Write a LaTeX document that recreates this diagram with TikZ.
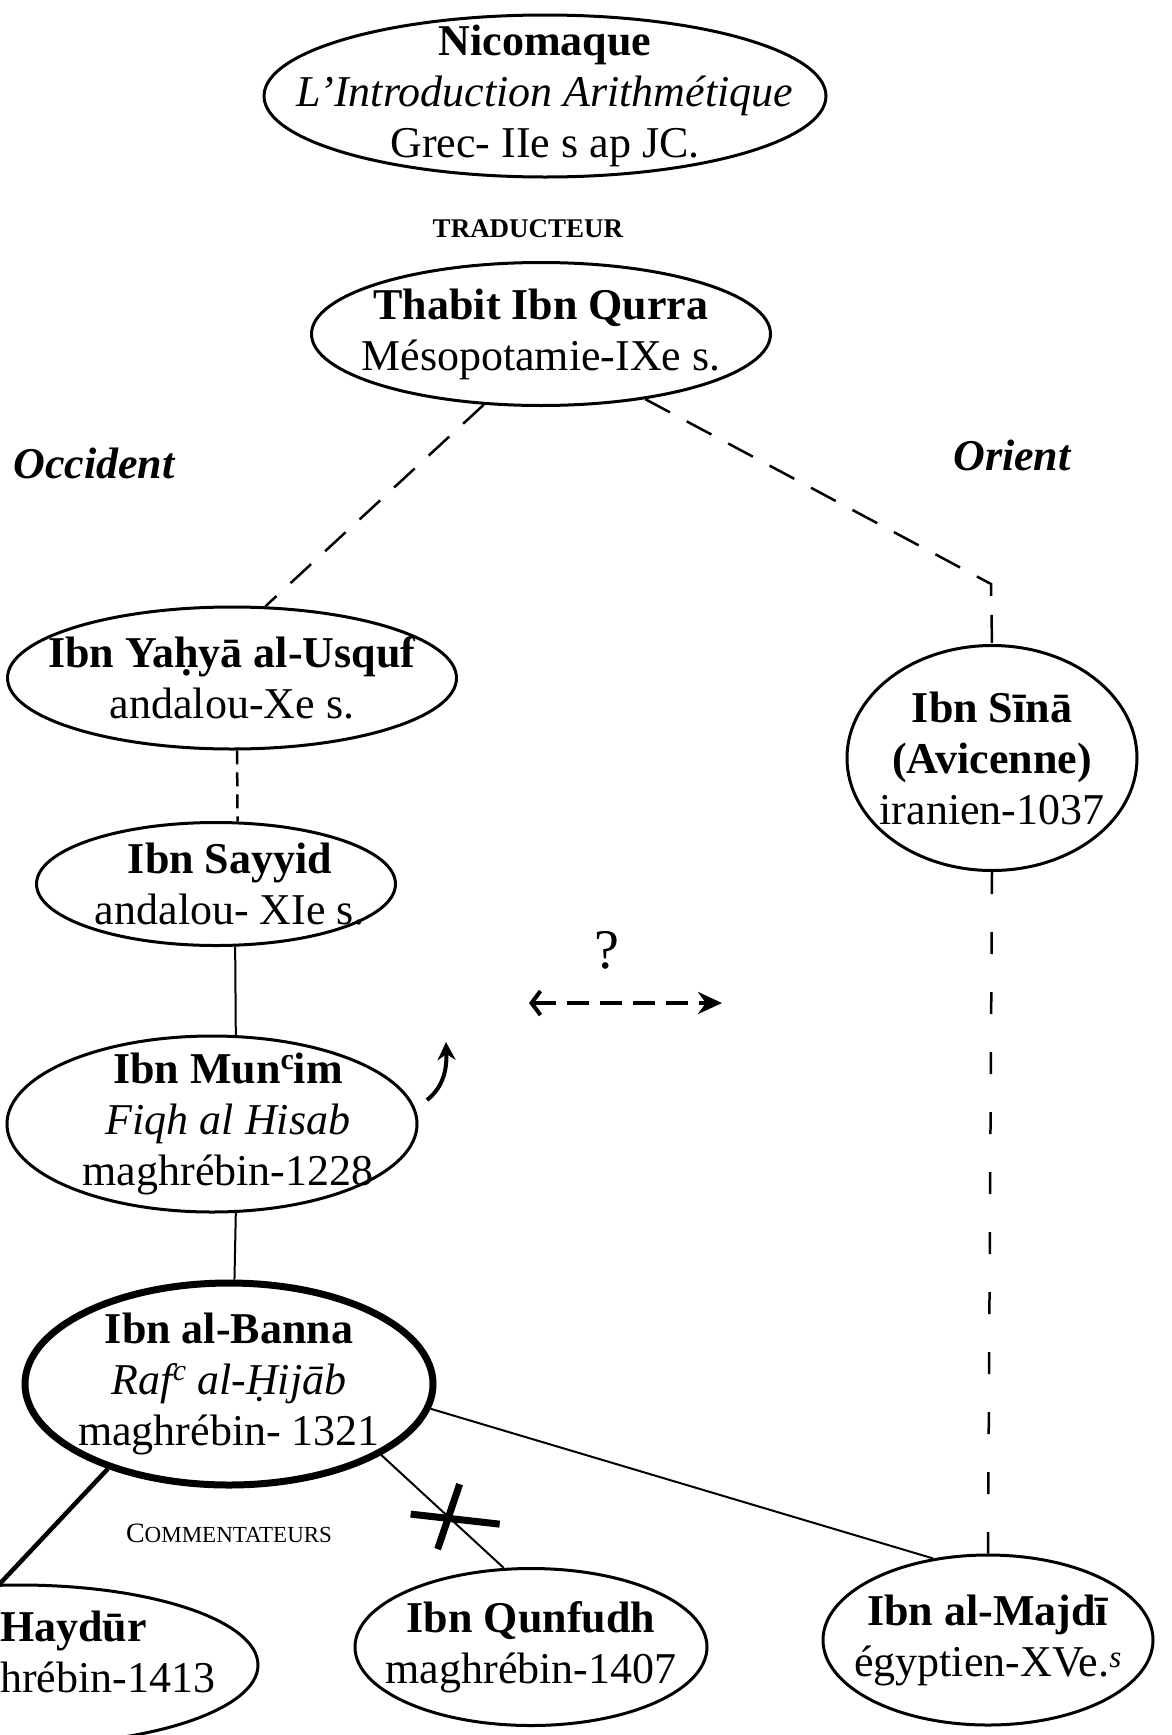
\documentclass[tikz,border=0pt]{standalone}
\usepackage{fontspec}
\setmainfont{Liberation Serif}
\usepackage{tikz}
\usetikzlibrary{shapes.geometric,arrows.meta}

\newcommand{\supc}{\raisebox{0.32em}{\fontsize{30}{30}\selectfont c}}

\begin{document}
\begin{tikzpicture}[x=1pt, y=-1pt, node distance=240pt,
  font=\fontsize{44}{51}\selectfont,
  blob/.style={ellipse, draw, line width=3pt, inner sep=0pt},
  txt/.style={inner sep=0pt},
  link/.style={line width=2pt},
  dashlink/.style={line width=2.5pt, dash pattern=on 28pt off 19pt},
  every label/.style={align=center}]

\useasboundingbox (0,0) rectangle (1171,1735);
\clip (0,0) rectangle (1171,1735);

\node (nico) [blob, minimum width=562pt, minimum height=162pt, label={center:\textbf{Nicomaque}\\\textit{L'Introduction Arithmétique}\\Grec- IIe s ap JC.}] at (545,96) {};
\node (trad) [txt] at (528,229) {\fontsize{27}{30}\selectfont\bfseries TRADUCTEUR};
\node (thabit) [blob, minimum width=459pt, minimum height=143pt, below of=nico, xshift=-4pt, yshift=2pt, label={center:\textbf{Thabit Ibn Qurra}\\Mésopotamie-IXe s.}] {};

\node (occ) [txt] at (94,463) {\bfseries\itshape Occident};
\node (ori) [txt] at (1012,455) {\bfseries\itshape Orient};

\node (yahya) [blob, minimum width=449pt, minimum height=142pt, below of=thabit, xshift=-309pt, yshift=-104pt, label={center:\textbf{Ibn Yaḥyā al-Usquf}\\andalou-Xe s.}] {};
\node (sayyid) [blob, minimum width=359pt, minimum height=123pt, below of=yahya, xshift=-16pt, yshift=34pt, label={[xshift=14pt]center:\textbf{Ibn Sayyid}\\andalou- XIe s.}] {};
\node (munim) [blob, minimum width=410pt, minimum height=176pt, below of=sayyid, xshift=-4pt, label={[xshift=16pt]center:\textbf{Ibn Mun\supc im}\\\textit{Fiqh al Hisab}\\maghrébin-1228}] {};
\node (banna) [blob, line width=7pt, minimum width=408pt, minimum height=202pt, below of=munim, xshift=17pt, yshift=-20pt, label={center:\textbf{Ibn al-Banna}\\\textit{Raf\supc\ al-Ḥijāb}\\maghrébin- 1321}] {};

\node (sina) [blob, minimum width=290pt, minimum height=225pt, label={center:\textbf{Ibn Sīnā}\\\textbf{(Avicenne)}\\iranien-1037}] at (992,758) {};
\node (majdi) [blob, minimum width=330pt, minimum height=170pt, label={center:\textbf{Ibn al-Majdī}\\égyptien-XVe.\textsuperscript{\textit{s}}}] at (988,1640) {};
\node (qunfudh) [blob, minimum width=352pt, minimum height=157pt, below of=banna, xshift=302pt, yshift=-23pt, label={center:\textbf{Ibn Qunfudh}\\maghrébin-1407}] {};
\node (haydur) [blob, minimum width=476pt, minimum height=160pt] at (20,1665) {};
\node (haydurtxt) [txt, anchor=west, align=left] at (0,1652) {\textbf{Haydūr}\\hrébin-1413};

\node (comm) [txt] at (229,1533) {\fontsize{28}{30}\selectfont C\fontsize{23}{30}\selectfont OMMENTATEURS};
\node (quest) [txt] at (607,950) {\fontsize{56}{60}\selectfont ?};

\coordinate (oribend) at (991,584);
\coordinate (qleft) at (529,1003);
\coordinate (qright) at (722,1003);
\coordinate (hook0) at (427,1100);
\coordinate (hook1) at (446,1042);

\draw[dashlink] (thabit.231) -- (yahya.65);
\draw[dashlink] (thabit.328) -- (oribend) -- (sina.north);
\draw[dashlink, dash pattern=on 14pt off 8pt] (yahya.274) -- (sayyid.71);
\draw[link] (sayyid.287) -- (munim.75);
\draw[link] (munim.285) -- (banna.87);
\draw[link] (banna.353) -- (majdi.124);
\draw[link, line width=4.5pt] (banna.215) -- (haydur.104);
\draw[link] (banna.335) -- coordinate[pos=.55] (cut) (qunfudh.109);
\draw[line width=7pt] ([shift={(11,-33)}]cut) -- ([shift={(-11,32)}]cut);
\draw[line width=7pt] ([shift={(-38,-3)}]cut) -- ([shift={(51,7)}]cut);
\draw[dashlink, dash pattern=on 22pt off 38pt] (sina.south) -- (majdi.north);

\draw[line width=4pt, dash pattern=on 22pt off 11pt, {Straight Barb[length=9pt,width=24pt]}-{Stealth[length=24pt,width=22pt]}] (qleft) -- (qright);
\draw[line width=4pt, -{Stealth[length=18pt,width=18pt]}] (hook0) .. controls (442,1088) and (447,1072) .. (hook1);

\end{tikzpicture}
\end{document}
